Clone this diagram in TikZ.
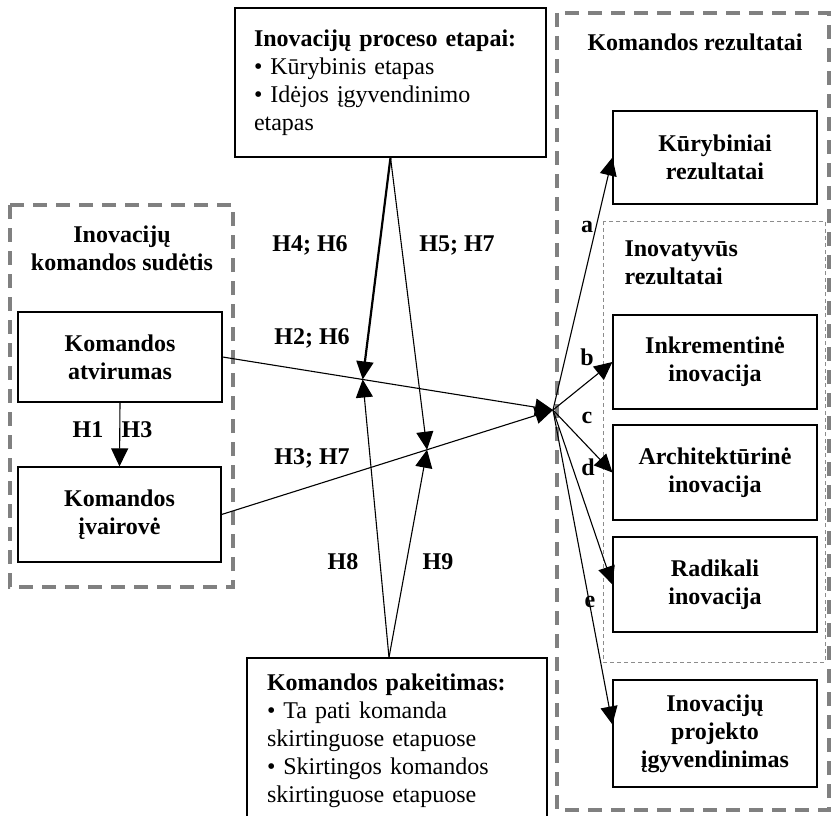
\documentclass[tikz,border=0pt]{standalone}
\usepackage{fontspec}
\setmainfont{Liberation Serif}
\usetikzlibrary{arrows.meta,calc}

\begin{document}
\begin{tikzpicture}[x=1pt,y=-1pt,
  every node/.style={font=\fontsize{24}{28}\selectfont},
  blk/.style={draw, line width=1.2pt, inner sep=0pt, align=center, font=\fontsize{24}{28}\selectfont\bfseries},
  listbox/.style={draw, line width=1.2pt, inner ysep=0pt, align=left},
  frame/.style={draw=black!50, line width=3.5pt, dash pattern=on 14pt off 9pt},
  subframe/.style={draw=black!45, line width=1pt, dash pattern=on 4pt off 3pt},
  lbl/.style={font=\fontsize{24}{28}\selectfont\bfseries},
  arr/.style={line width=1.1pt, -{Triangle[length=18pt,width=17pt]}},
  thickarr/.style={line width=2.2pt, -{Triangle[length=18pt,width=17pt]}}
]
\useasboundingbox (0,0) rectangle (831,816);

% group frames
\draw[frame] (10,205) rectangle (233,587);
\draw[frame] (557,13) rectangle (829,810);
\draw[subframe] (603,221) rectangle (825,662);

% frame titles
\node[lbl, align=center] (tcomp) at (122,248) {Inovacijų\\komandos sudėtis};
\node[lbl] (tres) at (695,42) {Komandos rezultatai};
\node[lbl, align=left, anchor=west] (tinov) at (621,263) {Inovatyvūs\\rezultatai};

% moderator boxes
\node[listbox, inner xsep=19pt, text width=273pt, minimum height=149pt] (proc) at (390.5,82.5)
  {\textbf{Inovacijų proceso etapai:}\\• Kūrybinis etapas\\• Idėjos įgyvendinimo\\etapas};
\node[listbox, inner xsep=20pt, text width=260pt, minimum height=166pt] (chg) at (397,741)
  {\textbf{Komandos pakeitimas:}\\• Ta pati komanda\\skirtinguose etapuose\\• Skirtingos komandos\\skirtinguose etapuose};

% team composition
\node[blk, minimum width=204pt, minimum height=90pt] (atv) at (120,357) {Komandos\\atvirumas};
\node[blk, minimum width=203pt, minimum height=95pt] (ivr) at (119.5,514.5) {Komandos\\įvairovė};

% outcomes
\node[blk, minimum width=204pt, minimum height=93pt] (kur) at (715,157.5) {Kūrybiniai\\rezultatai};
\node[blk, minimum width=204pt, minimum height=94pt] (ink) at (715,362) {Inkrementinė\\inovacija};
\node[blk, minimum width=204pt, minimum height=95pt] (arch) at (715,472.5) {Architektūrinė\\inovacija};
\node[blk, minimum width=204pt, minimum height=95pt] (rad) at (715,584.5) {Radikali\\inovacija};
\node[blk, minimum width=204pt, minimum height=107pt] (proj) at (715,733.5) {Inovacijų\\projekto\\įgyvendinimas};

% junction points
\coordinate (conv) at (553,410);
\coordinate (m1) at ($(atv.east)!0.424!(conv)$);
\coordinate (m2) at ($(ivr.east)!0.62!(conv)$);

% main effects
\draw[arr] (atv.south) -- (ivr.north);
\draw[arr] (atv.east) -- (conv);
\draw[arr] (ivr.east) -- (conv);

% moderating effects
\draw[thickarr] (proc.south) -- (m1);
\draw[arr] (proc.south) -- (m2);
\draw[arr] ([xshift=-8pt]chg.north) -- (m1);
\draw[arr] ([xshift=-8pt]chg.north) -- (m2);

% outcome paths
\draw[arr] (conv) -- (kur.west);
\draw[arr] (conv) -- (ink.west);
\draw[arr] (conv) -- (arch.west);
\draw[arr] (conv) -- (rad.west);
\draw[arr] (conv) -- ([yshift=9pt]proj.west);

% hypothesis labels
\node[lbl] (h46) at (310,245) {H4; H6};
\node[lbl] (h57) at (457,245) {H5; H7};
\node[lbl] (h26) at (312,338) {H2; H6};
\node[lbl] (h37) at (312,458) {H3; H7};
\node[lbl] (h8) at (343,562) {H8};
\node[lbl] (h9) at (438,562) {H9};
\node[lbl] (h1) at (88,430) {H1};
\node[lbl] (h3) at (137,430) {H3};
\node[lbl] (la) at (587,227) {a};
\node[lbl] (lb) at (587,357) {b};
\node[lbl] (lc) at (587,418) {c};
\node[lbl] (ld) at (588,467) {d};
\node[lbl] (le) at (590,602) {e};
\end{tikzpicture}
\end{document}
